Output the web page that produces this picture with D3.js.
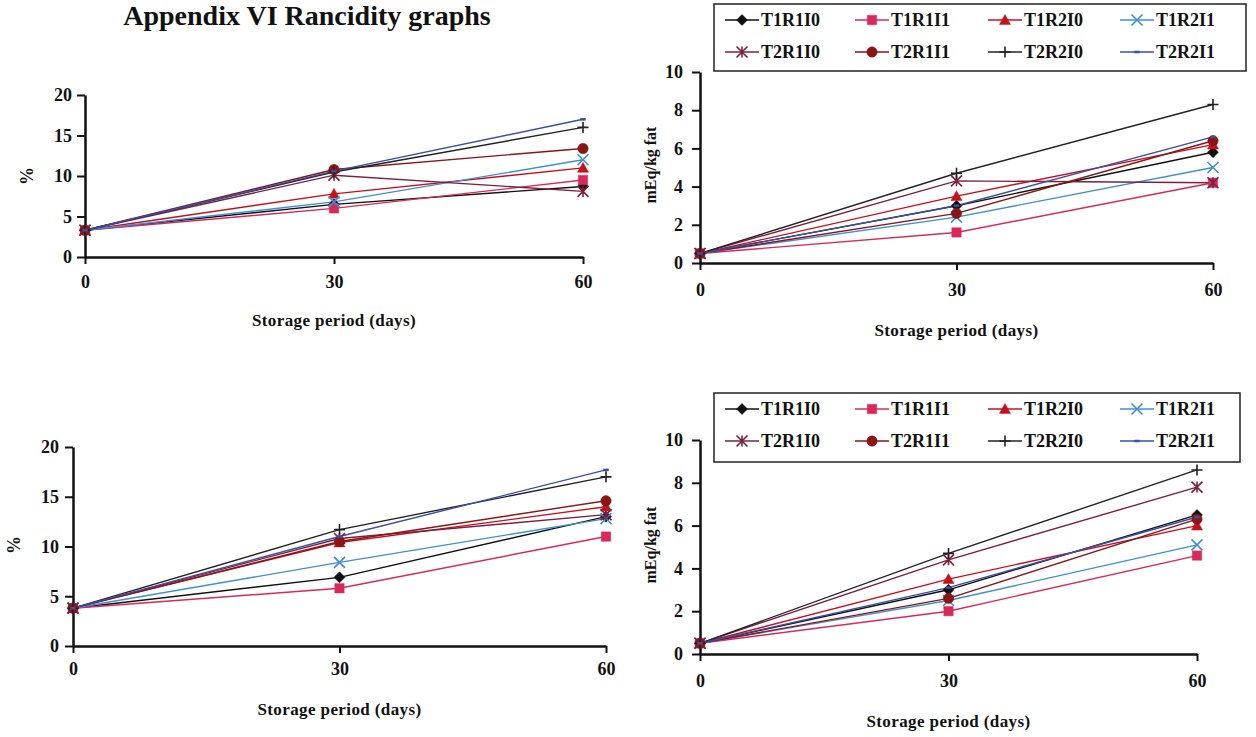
<!DOCTYPE html>
<html>
<head>
<meta charset="utf-8">
<script src="https://cdn.jsdelivr.net/npm/d3@7"></script>
<style>
  body { margin: 0; background: #fff; }
  text { font-family: "Liberation Serif", "Times New Roman", serif; font-weight: bold; fill: #111; }
</style>
</head>
<body>
<div id="chart"></div>
<script>
// Rancidity graphs: 4 panels, 8 treatments each
const days = [0, 30, 60];
const treatments = ["T1R1I0", "T1R1I1", "T1R2I0", "T1R2I1", "T2R1I0", "T2R1I1", "T2R2I0", "T2R2I1"];
const colors = ["#111111", "#d9285a", "#c8101a", "#3d8fd6", "#7d2040", "#8a1515", "#222222", "#3a50a8"];
const shapes = ["diamond", "square", "triangle", "x", "star", "circle", "plus", "dash"];

// top-left: % (0-20)
const pctTop = [
    [3.3, 6.5, 8.7],
    [3.3, 6.0, 9.5],
    [3.3, 7.8, 11.0],
    [3.3, 6.8, 12.0],
    [3.3, 10.1, 8.1],
    [3.3, 10.8, 13.4],
    [3.3, 10.5, 16.0],
    [3.3, 10.6, 17.0]
];
// top-right: mEq/kg fat (0-10)
const pvTop = [
    [0.5, 3.0, 5.8],
    [0.5, 1.6, 4.2],
    [0.5, 3.5, 6.2],
    [0.5, 2.4, 5.0],
    [0.5, 4.3, 4.2],
    [0.5, 2.6, 6.4],
    [0.5, 4.7, 8.3],
    [0.5, 3.0, 6.6]
];
// bottom-left: % (0-20)
const pctBottom = [
    [3.8, 6.9, 13.0],
    [3.8, 5.8, 11.0],
    [3.8, 10.4, 14.0],
    [3.8, 8.4, 12.8],
    [3.8, 10.8, 13.2],
    [3.8, 10.5, 14.6],
    [3.8, 11.7, 17.0],
    [3.8, 11.0, 17.7]
];
// bottom-right: mEq/kg fat (0-10)
const pvBottom = [
    [0.5, 3.0, 6.5],
    [0.5, 2.0, 4.6],
    [0.5, 3.5, 6.0],
    [0.5, 2.5, 5.1],
    [0.5, 4.4, 7.8],
    [0.5, 2.6, 6.3],
    [0.5, 4.7, 8.6],
    [0.5, 3.1, 6.4]
];
const pctTicks = [0, 5, 10, 15, 20];
const pvTicks = [0, 2, 4, 6, 8, 10];

const svg = d3.select("#chart").append("svg")
    .attr("width", 1256)
    .attr("height", 737);

svg.append("text")
    .attr("x", 307).attr("y", 25)
    .attr("text-anchor", "middle")
    .style("font-size", "28px")
    .text("Appendix VI Rancidity graphs");

function markerPath(shape, s) {
    const h = s / 2;
    switch (shape) {
        case "diamond": return `M0,${-h}L${h},0L0,${h}L${-h},0Z`;
        case "square": return `M${-h * 0.85},${-h * 0.85}h${s * 0.85}v${s * 0.85}h${-s * 0.85}Z`;
        case "triangle": return `M0,${-h}L${h},${h * 0.8}L${-h},${h * 0.8}Z`;
        case "circle": return d3.symbol(d3.symbolCircle, s * s * 0.7)();
        case "x": return `M${-h},${-h}L${h},${h}M${-h},${h}L${h},${-h}`;
        case "star": return `M${-h},${-h}L${h},${h}M${-h},${h}L${h},${-h}M0,${-h}V${h}`;
        case "plus": return `M${-h},0H${h}M0,${-h}V${h}`;
        case "dash": return `M${-h * 0.5},0H${h * 0.5}`;
    }
}
const filled = s => ["diamond", "square", "triangle", "circle"].includes(s);

function drawMarker(g, i, x, y, s) {
    const sh = shapes[i];
    g.append("path")
        .attr("transform", `translate(${x},${y})`)
        .attr("d", markerPath(sh, s))
        .attr("fill", filled(sh) ? colors[i] : "none")
        .attr("stroke", colors[i])
        .attr("stroke-width", filled(sh) ? 0.5 : (sh === "dash" ? 2.5 : 1.6));
}

function drawPanel(cfg) {
    const x = d3.scaleLinear().domain([0, 60]).range(cfg.xr);
    const y = d3.scaleLinear().domain([0, cfg.ymax]).range(cfg.yr);
    const g = svg.append("g");

    const xAxis = g.append("g")
        .attr("transform", `translate(0,${cfg.yr[0]})`)
        .call(d3.axisBottom(x).tickValues(days).tickSize(7).tickPadding(cfg.xpad).tickSizeOuter(0));
    const yAxis = g.append("g")
        .attr("transform", `translate(${cfg.xr[0]},0)`)
        .call(d3.axisLeft(y).tickValues(cfg.ticks).tickSize(8).tickPadding(cfg.ypad).tickSizeOuter(0));
    [xAxis, yAxis].forEach(a => {
        a.select(".domain").attr("stroke", "#111").attr("stroke-width", 2.5);
        a.selectAll(".tick line").attr("stroke", "#111").attr("stroke-width", 2);
        a.selectAll(".tick text")
            .style("font-family", "Liberation Serif, serif")
            .style("font-weight", "bold")
            .style("font-size", "18px")
            .attr("fill", "#111");
    });

    const line = d3.line().x((d, j) => x(days[j])).y(d => y(d));
    cfg.data.forEach((vals, i) => {
        g.append("path")
            .attr("d", line(vals))
            .attr("fill", "none")
            .attr("stroke", colors[i])
            .attr("stroke-width", 1.4);
    });
    cfg.data.forEach((vals, i) => {
        vals.forEach((v, j) => drawMarker(g, i, x(days[j]), y(v), 11));
    });

    g.append("text")
        .attr("x", x(30))
        .attr("y", cfg.titleY)
        .attr("text-anchor", "middle")
        .style("font-size", "17px")
        .style("letter-spacing", "0.4px")
        .text("Storage period (days)");

    g.append("text")
        .attr("transform", `translate(${cfg.labX},${cfg.labY}) rotate(-90)`)
        .attr("text-anchor", "middle")
        .style("font-size", cfg.labSize)
        .text(cfg.ylabel);
}

function drawLegend(x0, y0, w, h) {
    const g = svg.append("g");
    g.append("rect")
        .attr("x", x0).attr("y", y0)
        .attr("width", w).attr("height", h)
        .attr("fill", "#fff")
        .attr("stroke", "#222")
        .attr("stroke-width", 1.5);
    const colX = [11, 141, 274, 406];
    treatments.forEach((t, i) => {
        const cx = x0 + colX[i % 4];
        const cy = y0 + 16 + Math.floor(i / 4) * 32;
        g.append("line")
            .attr("x1", cx).attr("x2", cx + 34)
            .attr("y1", cy).attr("y2", cy)
            .attr("stroke", colors[i])
            .attr("stroke-width", 1.5);
        drawMarker(g, i, cx + 17, cy, 11);
        g.append("text")
            .attr("x", cx + 36).attr("y", cy + 6)
            .style("font-size", "18px")
            .text(t);
    });
}

drawPanel({ data: pctTop, xr: [85, 583], yr: [257, 95], ymax: 20, ticks: pctTicks, xpad: 11, ypad: 5,
    titleY: 326, labX: 33, labY: 176, labSize: "18px", ylabel: "%" });
drawPanel({ data: pvTop, xr: [700, 1213], yr: [263, 72], ymax: 10, ticks: pvTicks, xpad: 13, ypad: 9,
    titleY: 336, labX: 656, labY: 165, labSize: "16px", ylabel: "mEq/kg fat" });
drawPanel({ data: pctBottom, xr: [73, 606], yr: [646, 447], ymax: 20, ticks: pctTicks, xpad: 9, ypad: 6,
    titleY: 715, labX: 20, labY: 545, labSize: "18px", ylabel: "%" });
drawPanel({ data: pvBottom, xr: [700, 1197], yr: [654, 440], ymax: 10, ticks: pvTicks, xpad: 13, ypad: 9,
    titleY: 727, labX: 656, labY: 545, labSize: "16px", ylabel: "mEq/kg fat" });

drawLegend(714, 4, 532, 67);
drawLegend(714, 393, 526, 69);
</script>
</body>
</html>
